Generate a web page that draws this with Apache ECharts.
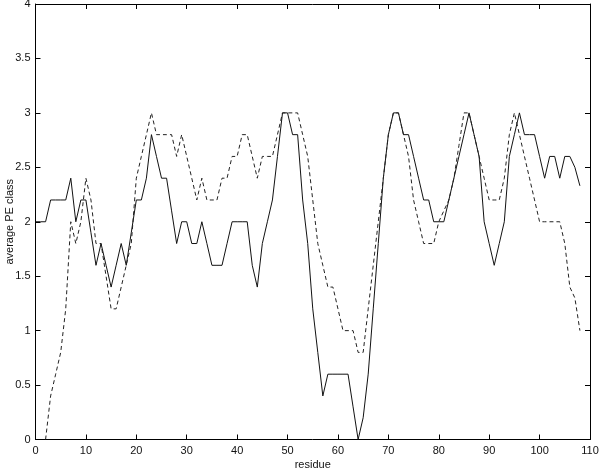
<!DOCTYPE html>
<html>
<head>
<meta charset="utf-8">
<script src="https://cdn.jsdelivr.net/npm/echarts@6/dist/echarts.min.js"></script>
<style>
html,body{margin:0;padding:0;background:#fff;}
#c{width:600px;height:471px;}
</style>
</head>
<body>
<div id="c"></div>
<script>
// Solid series (residue, average PE class)
const solidX = [0,1,2,3,4,5,6,7,8,9,10,11,12,13,14,15,16,17,18,19,20,21,22,23,24,25,26,27,28,29,30,31,32,33,34,35,36,37,38,39,40,41,42,43,44,45,46,47,48,49,50,51,52,53,54,55,56,57,58,59,60,61,62,63,64,65,66,67,68,69,70,71,72,73,74,75,76,77,78,79,80,81,82,83,84,85,86,87,88,89,90,91,92,93,94,95,96,97,98,99,100,101,102,103,104,105,106,107,108];
const solidY = [2.0,2.0,2.0,2.2,2.2,2.2,2.2,2.4,2.0,2.2,2.2,1.9,1.6,1.8,1.6,1.4,1.6,1.8,1.6,1.9,2.2,2.2,2.4,2.8,2.6,2.4,2.4,2.1,1.8,2.0,2.0,1.8,1.8,2.0,1.8,1.6,1.6,1.6,1.8,2.0,2.0,2.0,2.0,1.6,1.4,1.8,2.0,2.2,2.6,3.0,3.0,2.8,2.8,2.2,1.8,1.2,0.8,0.4,0.6,0.6,0.6,0.6,0.6,0.3,0.0,0.2,0.6,1.2,1.8,2.4,2.8,3.0,3.0,2.8,2.8,2.6,2.4,2.2,2.2,2.0,2.0,2.0,2.2,2.4,2.6,2.8,3.0,2.8,2.6,2.0,1.8,1.6,1.8,2.0,2.6,2.8,3.0,2.8,2.8,2.8,2.6,2.4,2.6,2.6,2.4,2.6,2.6,2.5,2.33];
// Dashed series
const dashX = [2,3,4,5,6,7,8,9,10,11,12,13,14,15,16,17,18,19,20,21,22,23,24,25,26,27,28,29,30,31,32,33,34,35,36,37,38,39,40,41,42,43,44,45,46,47,48,49,50,51,52,53,54,55,56,57,58,59,60,61,62,63,64,65,66,67,68,69,70,71,72,73,74,75,76,77,78,79,80,81,82,83,84,85,86,87,88,89,90,91,92,93,94,95,96,97,98,99,100,101,102,103,104,105,106,107,108];
const dashY = [0.0,0.4,0.6,0.8,1.2,2.0,1.8,2.0,2.4,2.2,1.8,1.8,1.5,1.2,1.2,1.4,1.6,1.8,2.4,2.6,2.8,3.0,2.8,2.8,2.8,2.8,2.6,2.8,2.6,2.4,2.2,2.4,2.2,2.2,2.2,2.4,2.4,2.6,2.6,2.8,2.8,2.6,2.4,2.6,2.6,2.6,2.8,3.0,3.0,3.0,3.0,2.8,2.6,2.2,1.8,1.6,1.4,1.4,1.2,1.0,1.0,1.0,0.8,0.8,1.2,1.6,2.0,2.4,2.8,3.0,3.0,2.8,2.6,2.2,2.0,1.8,1.8,1.8,2.0,2.1,2.2,2.4,2.7,3.0,3.0,2.8,2.6,2.4,2.2,2.2,2.2,2.4,2.8,3.0,2.8,2.6,2.4,2.2,2.0,2.0,2.0,2.0,2.0,1.8,1.4,1.3,1.0];
const xTicks = [0,10,20,30,40,50,60,70,80,90,100,110];
const yTicks = [0,0.5,1,1.5,2,2.5,3,3.5,4];
const xName = 'residue';
const yName = 'average PE class';

const chart = echarts.init(document.getElementById('c'), null, {renderer:'canvas'});
const FONT = 'Liberation Sans';
const axisLine = {show:true, onZero:false, lineStyle:{color:'#000', width:1}};
const tick = {show:true, inside:true, length:5, lineStyle:{color:'#000', width:1}};
const xBase = {type:'value', min:xTicks[0], max:xTicks[xTicks.length-1], interval:10, splitLine:{show:false}};
const yBase = {type:'value', min:yTicks[0], max:yTicks[yTicks.length-1], interval:0.5, splitLine:{show:false}};

chart.setOption({
  animation:false,
  backgroundColor:'#fff',
  grid:{left:35.5, right:10, top:4, bottom:31.5, containLabel:false, outerBoundsMode:'none'},
  xAxis:[
    Object.assign({}, xBase, {position:'bottom', axisLine, axisTick:tick,
      axisLabel:{color:'#111', fontFamily:FONT, fontSize:11, margin:6},
      name:xName, nameLocation:'middle', nameGap:20, nameMoveOverlap:false,
      nameTextStyle:{color:'#111', fontFamily:FONT, fontSize:11}}),
    Object.assign({}, xBase, {position:'top', axisLine, axisTick:tick, axisLabel:{show:false}})
  ],
  yAxis:[
    Object.assign({}, yBase, {position:'left', axisLine, axisTick:tick,
      axisLabel:{color:'#111', fontFamily:FONT, fontSize:11, margin:5},
      name:yName, nameLocation:'middle', nameGap:20, nameRotate:90, nameMoveOverlap:false,
      nameTextStyle:{color:'#111', fontFamily:FONT, fontSize:11}}),
    Object.assign({}, yBase, {position:'right', axisLine, axisTick:tick, axisLabel:{show:false}})
  ],
  series:[
    {type:'line', xAxisIndex:0, yAxisIndex:0, symbol:'none', silent:true,
     data: solidX.map((x,i)=>[x, solidY[i]]),
     lineStyle:{color:'#111', width:1, type:'solid'}},
    {type:'line', xAxisIndex:0, yAxisIndex:0, symbol:'none', silent:true,
     data: dashX.map((x,i)=>[x, dashY[i]]),
     lineStyle:{color:'#222', width:1, type:[4,3]}}
  ]
});
</script>
</body>
</html>
